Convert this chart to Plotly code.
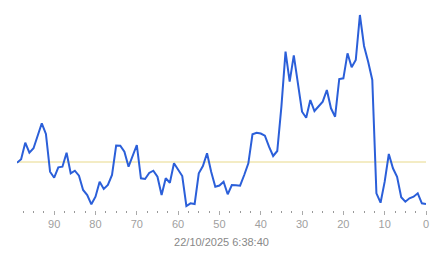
import plotly.graph_objects as go

# x positions (seconds ago), 99 .. 0
x_vals = list(range(99, -1, -1))
# values (arbitrary units)
y_vals = [
    47.3, 50.7, 67.3, 57.3, 61.7, 75.0, 86.7, 76.0, 38.3, 32.3,        # 99..90
    42.7, 43.3, 57.3, 36.7, 39.3, 34.3, 20.0, 15.0, 5.7, 13.3,         # 89..80
    28.3, 21.0, 25.0, 35.0, 64.5, 64.3, 58.3, 43.3, 54.0, 65.0,        # 79..70
    31.7, 31.0, 37.0, 39.3, 33.3, 15.0, 31.7, 27.3, 46.7, 40.0,        # 69..60
    34.0, 4.0, 6.7, 6.0, 36.7, 44.0, 56.7, 38.3, 23.3, 24.5,           # 59..50
    28.3, 15.7, 25.0, 24.7, 24.3, 35.0, 46.7, 75.7, 77.3, 76.5,        # 49..40
    74.3, 63.3, 54.0, 59.0, 103.3, 158.3, 128.3, 154.7, 125.0, 98.3,   # 39..30
    92.3, 110.0, 99.0, 104.0, 108.3, 120.0, 101.7, 93.3, 131.0, 131.7, # 29..20
    156.7, 142.7, 150.0, 195.0, 164.0, 148.3, 130.0, 16.7, 7.3, 28.3,  # 19..10
    56.0, 41.7, 33.3, 12.7, 8.3, 11.7, 13.3, 16.7, 6.7, 6.0,           # 9..0
]
ref_level = 48.0
tick_values = [90, 80, 70, 60, 50, 40, 30, 20, 10, 0]
tick_labels = [str(v) for v in tick_values]
x_title = "22/10/2025 6:38:40"

fig = go.Figure()
fig.add_trace(go.Scatter(
    x=x_vals, y=y_vals, mode="lines",
    line=dict(color="#2b5fd9", width=2),
    hoverinfo="skip", showlegend=False,
))
fig.add_shape(type="line", xref="x", yref="y",
              x0=max(x_vals), x1=min(x_vals), y0=ref_level, y1=ref_level,
              line=dict(color="#e8d98a", width=1), layer="below")

fig.update_layout(
    width=443, height=258,
    margin=dict(l=17, r=17, t=10, b=48),
    paper_bgcolor="white", plot_bgcolor="white",
    font=dict(family="Liberation Sans, Arial, sans-serif", size=11, color="#999999"),
    xaxis=dict(
        range=[max(x_vals), min(x_vals)],
        tickmode="array", tickvals=tick_values, ticktext=tick_labels,
        ticks="outside", ticklen=4, tickwidth=1, tickcolor="#aaaaaa",
        tickfont=dict(size=11, color="#a0a0a0"),
        minor=dict(dtick=2.5, ticks="outside", ticklen=2, tickwidth=1, tickcolor="#999999", showgrid=False),
        showgrid=False, zeroline=False, showline=False,
        title=dict(text=x_title, font=dict(size=11, color="#888888"), standoff=9),
    ),
    yaxis=dict(range=[0, 200], visible=False),
)

fig.write_html("out.html", config={"displayModeBar": False})
